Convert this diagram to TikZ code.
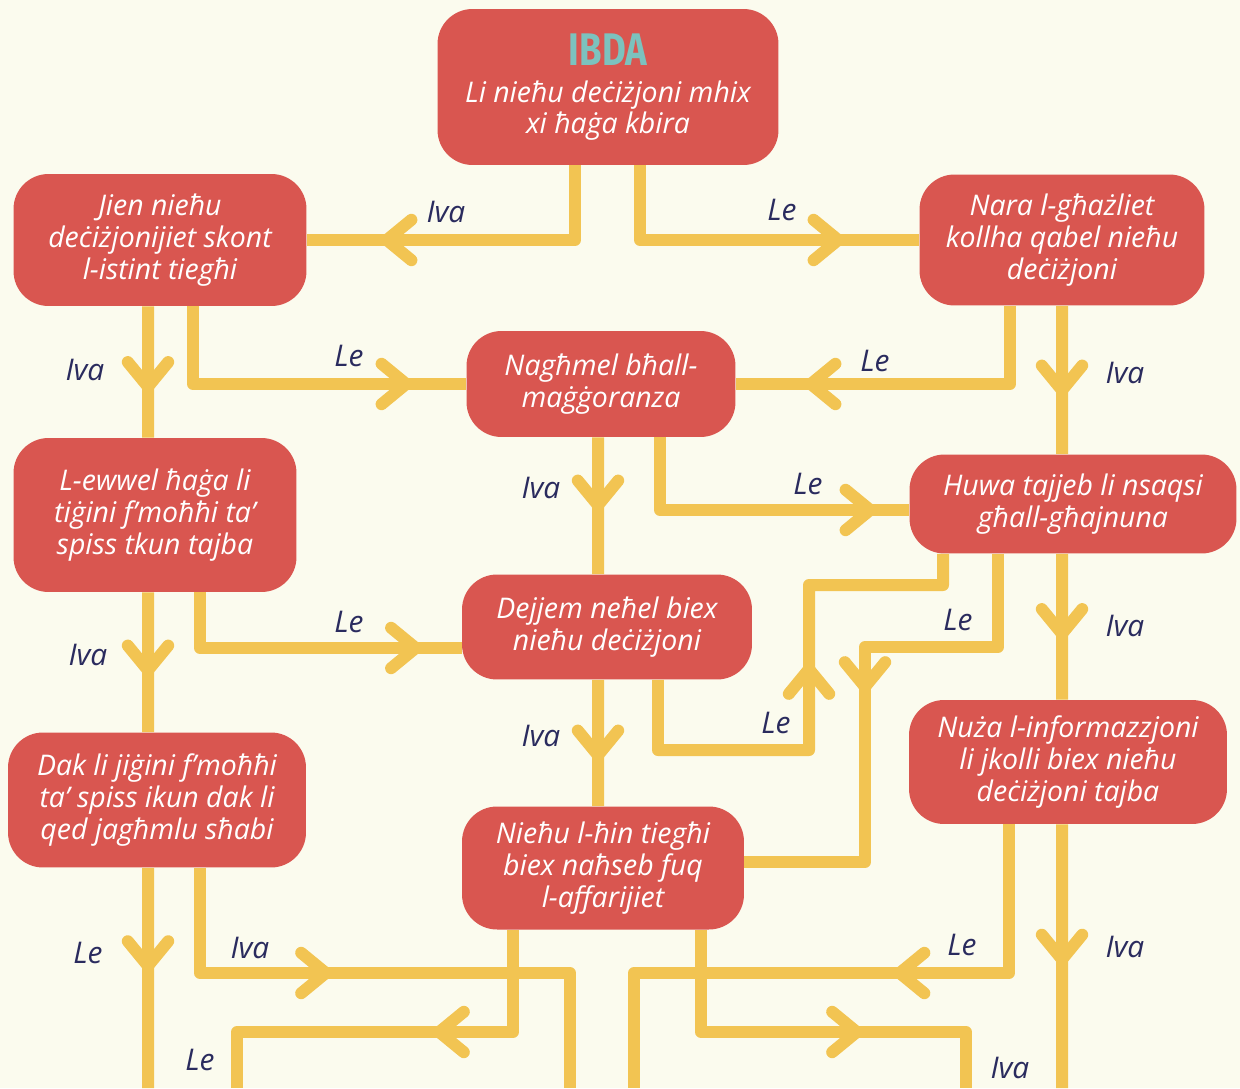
\documentclass[tikz,border=0pt]{standalone}
\usepackage{fontspec}
\setmainfont{Open Sans}
\newfontfamily\titlefont[FakeStretch=0.8]{Fira Sans}
\usetikzlibrary{arrows.meta,decorations.markings}

\definecolor{cream}{RGB}{251,251,238}
\definecolor{boxred}{RGB}{217,86,80}
\definecolor{wireyel}{RGB}{242,196,82}
\definecolor{inkblue}{RGB}{42,43,94}
\definecolor{ibdateal}{RGB}{124,194,190}

\tikzset{
  chev/.tip={Straight Barb[length=14pt,width=23pt,round]},
  box/.style={rectangle, rounded corners=0.7cm, fill=boxred, text=white, inner sep=0pt,
    align=center, font=\fontsize{16.2}{18}\selectfont\itshape},
  wire/.style={draw=wireyel, line width=0.24cm, line join=round},
  tipat/.style={postaction={decorate,decoration={markings,mark=at position #1 with {\arrow{chev}}}}},
  lbl/.style={text=inkblue, font=\fontsize{17}{18}\selectfont\itshape}
}

\begin{document}
\begin{tikzpicture}[x=0.02cm, y=-0.02cm]
  \path[use as bounding box, fill=cream] (0,0) rectangle (1240,1088);

  \node[box, minimum width=6.82cm, minimum height=3.12cm] (start) at (608,87)
    {{\titlefont\upshape\bfseries\fontsize{26}{28}\selectfont\color{ibdateal}IBDA}\\[3pt]
     Li nieħu deċiżjoni mhix\\ xi ħaġa kbira};
  \node[box, minimum width=5.86cm, minimum height=2.64cm] (jien) at (160,240)
    {Jien nieħu\\ deċiżjonijiet skont\\ l-istint tiegħi};
  \node[box, minimum width=5.7cm, minimum height=2.62cm] (nara) at (1062,240)
    {Nara l-għażliet\\ kollha qabel nieħu\\ deċiżjoni};
  \node[box, minimum width=5.38cm, minimum height=2.12cm] (naghmel) at (601,384)
    {Nagħmel bħall-\\ maġġoranza};
  \node[box, minimum width=6.54cm, minimum height=1.98cm] (huwa) at (1073,504)
    {Huwa tajjeb li nsaqsi\\ għall-għajnuna};
  \node[box, minimum width=5.66cm, minimum height=3.08cm] (lewwel) at (155,515)
    {L-ewwel ħaġa li\\ tiġini f’moħħi ta’\\ spiss tkun tajba};
  \node[box, minimum width=5.8cm, minimum height=2.1cm] (dejjem) at (607,627)
    {Dejjem neħel biex\\ nieħu deċiżjoni};
  \node[box, minimum width=5.96cm, minimum height=2.7cm] (dak) at (157,800)
    {Dak li jiġini f’moħħi\\ ta’ spiss ikun dak li\\ qed jagħmlu sħabi};
  \node[box, minimum width=5.64cm, minimum height=2.46cm] (niehu) at (603,868)
    {Nieħu l-ħin tiegħi\\ biex naħseb fuq\\ l-affarijiet};
  \node[box, minimum width=6.36cm, minimum height=2.48cm] (nuza) at (1068,762)
    {Nuża l-informazzjoni\\ li jkolli biex nieħu\\ deċiżjoni tajba};

  \coordinate (endDakLe) at (148,1088);
  \coordinate (endDakIva) at (570,1088);
  \coordinate (endNiehuLe) at (237,1088);
  \coordinate (endNiehuIva) at (966,1088);
  \coordinate (endNuzaLe) at (634,1088);
  \coordinate (endNuzaIva) at (1062,1088);

  \draw[wire, tipat=-1.48cm] ([xshift=-0.66cm]start.south) |- (jien.east);
  \draw[wire, tipat=-1.5cm] ([xshift=0.64cm]start.south) |- (nara.west);
  \draw[wire, tipat=-0.9cm] ([xshift=-0.24cm]jien.south) -- ([xshift=-0.14cm]lewwel.north);
  \draw[wire, tipat=-1.08cm] ([xshift=0.66cm]jien.south) |- (naghmel.west);
  \draw[wire, tipat=-1.38cm] ([xshift=-1.04cm]nara.south) |- (naghmel.east);
  \draw[wire, tipat=-1.16cm] (nara.south) -- ([xshift=-0.22cm]huwa.north);
  \draw[wire, tipat=-1.26cm] ([xshift=-0.06cm]naghmel.south) -- ([xshift=-0.18cm]dejjem.north);
  \draw[wire, tipat=-0.66cm] ([xshift=1.18cm]naghmel.south) |- ([yshift=-0.12cm]huwa.west);
  \draw[wire, tipat=-1.12cm] ([xshift=-0.14cm]lewwel.south) -- ([xshift=-0.18cm]dak.north);
  \draw[wire, tipat=-0.8cm] ([xshift=0.9cm]lewwel.south) |- ([yshift=-0.42cm]dejjem.west);
  \draw[wire, tipat=6.16cm] ([xshift=1.02cm]dejjem.south) |- (809,750) |- (943,585) -- ([xshift=-2.6cm]huwa.south);
  \draw[wire, tipat=5.44cm] ([xshift=-1.5cm]huwa.south) |- (865,647) |- ([yshift=0.12cm]niehu.east);
  \draw[wire, tipat=-1.2cm] ([xshift=-0.22cm]huwa.south) -- ([xshift=-0.12cm]nuza.north);
  \draw[wire, tipat=-0.9cm] ([xshift=-0.18cm]dejjem.south) -- ([xshift=-0.1cm]niehu.north);
  \draw[wire, tipat=2.08cm] ([xshift=-0.18cm]dak.south) -- (endDakLe);
  \draw[wire, tipat=4.74cm] ([xshift=0.86cm]dak.south) |- (570,973) -- (endDakIva);
  \draw[wire, tipat=3.64cm] ([xshift=-1.8cm]niehu.south) |- (237,1032) -- (endNiehuLe);
  \draw[wire, tipat=5.28cm] ([xshift=1.96cm]niehu.south) |- (966,1032) -- (endNiehuIva);
  \draw[wire, tipat=5.28cm] ([xshift=-1.18cm]nuza.south) |- (634,973) -- (endNuzaLe);
  \draw[wire, tipat=2.82cm] ([xshift=-0.12cm]nuza.south) -- (endNuzaIva);

  \node[lbl] (startIva) at (446,212) {Iva};
  \node[lbl] (startLe) at (782,210) {Le};
  \node[lbl] (jienIva) at (85,370) {Iva};
  \node[lbl] (jienLe) at (349,356) {Le};
  \node[lbl] (naraLe) at (875,361) {Le};
  \node[lbl] (naraIva) at (1125,373) {Iva};
  \node[lbl] (naghmelIva) at (541,488) {Iva};
  \node[lbl] (naghmelLe) at (808,484) {Le};
  \node[lbl] (lewwelIva) at (88,655) {Iva};
  \node[lbl] (lewwelLe) at (349,622) {Le};
  \node[lbl] (dejjemLe) at (776,723) {Le};
  \node[lbl] (huwaLe) at (958,620) {Le};
  \node[lbl] (huwaIva) at (1125,626) {Iva};
  \node[lbl] (dejjemIva) at (541,736) {Iva};
  \node[lbl] (dakLe) at (88,953) {Le};
  \node[lbl] (dakIva) at (250,948) {Iva};
  \node[lbl] (niehuLe) at (200,1060) {Le};
  \node[lbl] (niehuIva) at (1010,1068) {Iva};
  \node[lbl] (nuzaLe) at (962,945) {Le};
  \node[lbl] (nuzaIva) at (1125,947) {Iva};
\end{tikzpicture}
\end{document}
